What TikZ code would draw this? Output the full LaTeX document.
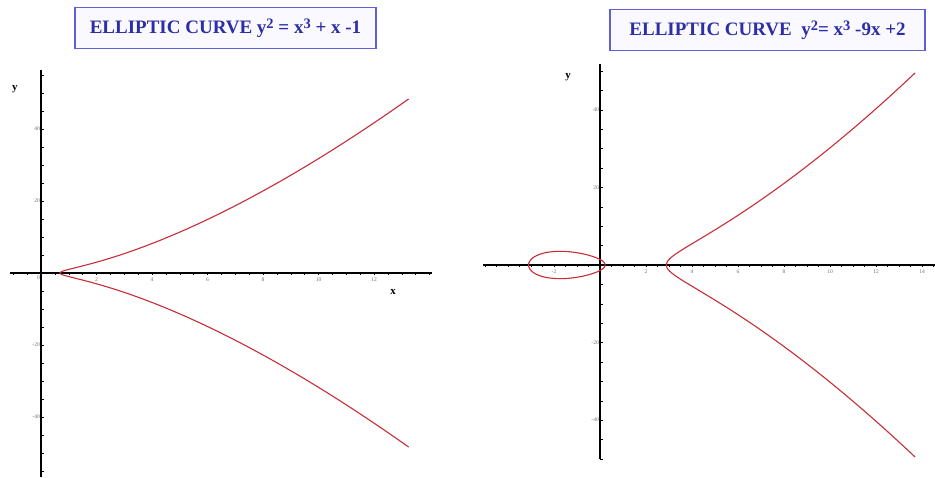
\documentclass[tikz,border=0pt]{standalone}
\usepackage{fontspec}
\setmainfont{Liberation Serif}
\usepackage{tikz}
\usetikzlibrary{positioning}
\definecolor{titleblue}{RGB}{45,45,165}
\definecolor{boxblue}{RGB}{95,95,215}
\definecolor{boxfill}{RGB}{249,249,255}
\definecolor{curvered}{RGB}{200,45,55}
\definecolor{tickgray}{RGB}{110,110,110}

\newcommand{\pw}[1]{\raisebox{0.6ex}{\fontsize{14.5}{14}\selectfont #1}}

\begin{document}
\begin{tikzpicture}[
  x=1pt, y=1pt,
  titlebox/.style={rectangle, draw=boxblue, line width=1.1pt, fill=boxfill,
                   text=titleblue, font=\fontsize{19}{21}\selectfont\bfseries,
                   minimum height=41pt, inner xsep=3pt},
  axis/.style={black, line width=1.1pt},
  tick/.style={black, line width=0.5pt},
  curve/.style={curvered, line width=1.1pt},
  ticklab/.style={font=\fontsize{5.5}{6}\selectfont, text=tickgray, inner sep=1pt},
  axlab/.style={font=\fontsize{11}{12}\selectfont\bfseries, inner sep=0pt},
]
\useasboundingbox (0,0) rectangle (935,478);

% Titles
\node[titlebox, minimum width=301pt] (titleL) at (225.5,450)
  {ELLIPTIC CURVE y\pw{2} = x\pw{3} + x -1};
\node[titlebox, minimum width=315pt] (titleR) at (767.5,448)
  {ELLIPTIC CURVE~~y\pw{2}= x\pw{3} -9x +2};

% Left plot
\begin{scope}[xshift=41pt, yshift=205pt, x=27.75pt, y=3.6pt]
  \draw[axis] (-1.12,0) -- (14.1,0);
  \draw[axis] (0,-56.7) -- (0,56.4);
  \foreach \t in {-1,-0.5,...,14}
    \draw[tick] (\t,0) -- ++(0pt,-2.5pt);
  \foreach \t in {-55,-50,...,55}
    \draw[tick] (0,\t) -- ++(2.5pt,0pt);
  \foreach \t in {2,4,...,12}
    \node[ticklab, below] at (\t,-1) {\t};
  \node[ticklab, below left] at (0,-0.5) {0};
  \foreach \t in {40,20,-20,-40}
    \node[ticklab, left] at (0,\t) {\t};
  % curve
  \draw[curve] plot[domain=13.25:0.682328, samples=300] (\x,{-sqrt(max(0,\x*\x*\x+\x-1))})
    -- plot[domain=0.682328:13.25, samples=300] (\x,{sqrt(max(0,\x*\x*\x+\x-1))});
  \node[axlab] (xL) at (12.69,-5.3) {x};
  \node[axlab] (yL) at (-0.94,51.1) {y};
\end{scope}

% Right plot
\begin{scope}[xshift=600pt, yshift=213pt, x=23pt, y=3.88pt]
  \draw[axis] (-5.09,0) -- (14.7,0);
  \draw[axis] (0,-50) -- (0,51.8);
  \foreach \t in {-5,-4.5,...,14.5}
    \draw[tick] (\t,0) -- ++(0pt,-2.5pt);
  \foreach \t in {-50,-45,...,50}
    \draw[tick] (0,\t) -- ++(2.5pt,0pt);
  \foreach \t in {2,4,...,14}
    \node[ticklab, below] at (\t,-1) {\t};
  \node[ticklab, below] at (-2,-1) {-2};
  \foreach \t in {40,20,-20,-40}
    \node[ticklab, left] at (0,\t) {\t};
  % loop
  \draw[curve] plot[domain=-3.10548:0.22346, samples=400] (\x,{sqrt(max(0,\x*\x*\x-9*\x+2))})
    -- plot[domain=0.22346:-3.10548, samples=400] (\x,{-sqrt(max(0,\x*\x*\x-9*\x+2))}) -- cycle;
  % right branch
  \draw[curve] plot[domain=13.7:2.88202, samples=300] (\x,{-sqrt(max(0,\x*\x*\x-9*\x+2))})
    -- plot[domain=2.88202:13.7, samples=300] (\x,{sqrt(max(0,\x*\x*\x-9*\x+2))});
  \node[axlab] (yR) at (-1.39,48.4) {y};
\end{scope}

\end{tikzpicture}
\end{document}
